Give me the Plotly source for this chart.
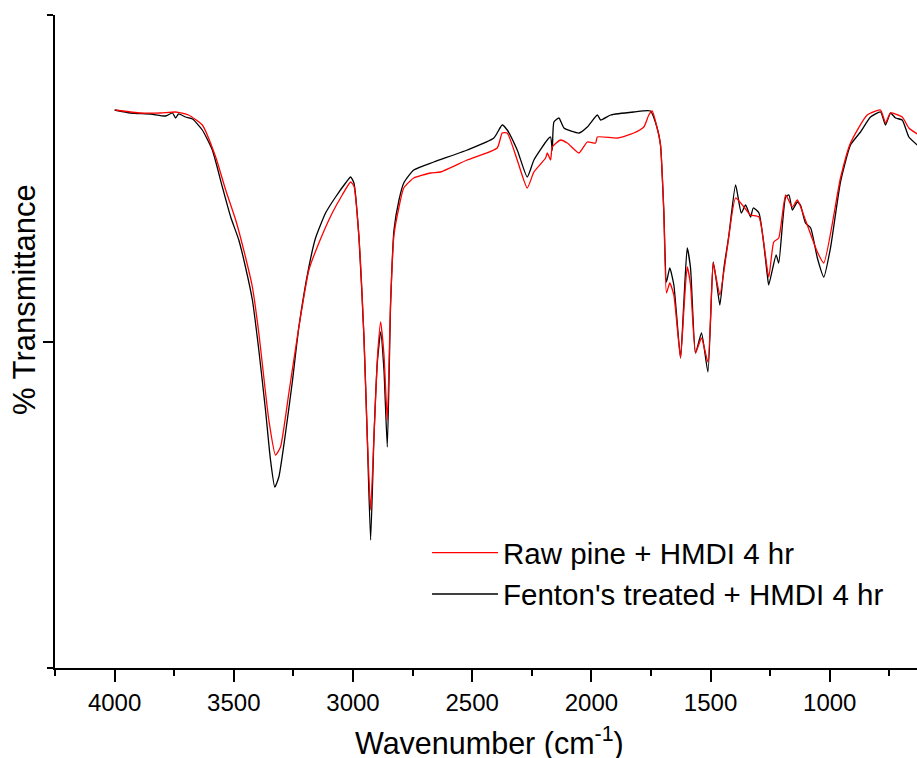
import plotly.graph_objects as go

# Fenton's treated + HMDI 4 hr (black)
fenton_wn = [4000,3933,3849,3786,3757,3744,3732,3702,3673,3632,
             3590,3548,3513,3479,3451,3422,3395,3367,3346,3328,
             3311,3283,3255,3227,3185,3157,3115,3073,3031,3010,
             2996,2975,2954,2940,2926,2912,2898,2884,2870,2856,
             2842,2828,2807,2787,2745,2661,2521,2409,2374,2353,
             2311,2269,2241,2185,2171,2164,2157,2136,2115,2052,
             2017,1975,1961,1919,1822,1752,1724,1710,1696,1685,
             1671,1654,1626,1612,1598,1584,1563,1538,1511,1489,
             1475,1461,1444,1423,1395,1371,1353,1332,1321,1297,
             1262,1256,1225,1214,1185,1171,1157,1136,1123,1102,
             1080,1052,1025,997,955,913,871,829,787,766,
             745,724,696,668,633]
fenton_t = [558,555,554,552,555,550,554,551,549,538,
            518,481,451,428,401,368,318,258,208,181,
            191,235,285,341,401,430,455,471,485,491,
            485,431,331,231,128,231,305,336,298,221,
            365,438,468,485,498,506,518,530,543,538,
            518,491,508,528,531,518,546,550,540,535,
            541,553,548,553,556,557,540,523,456,386,
            400,383,310,366,420,400,315,335,296,406,
            386,363,400,433,483,455,463,451,460,455,
            393,383,413,405,471,473,458,466,463,445,
            440,410,391,420,486,523,536,551,556,543,
            555,550,548,531,523]

# Raw pine + HMDI 4 hr (red)
raw_wn = [3996,3891,3807,3744,3690,3632,3576,3534,3492,3451,
          3422,3395,3353,3325,3304,3269,3227,3185,3143,3087,
          3045,3010,2996,2975,2954,2940,2926,2912,2898,2884,
          2870,2856,2842,2828,2807,2787,2745,2674,2633,2521,
          2395,2374,2353,2311,2269,2241,2192,2185,2171,2164,
          2129,2101,2052,2017,1982,1975,1891,1822,1780,1759,
          1745,1724,1710,1696,1685,1671,1654,1626,1612,1598,
          1584,1563,1538,1511,1489,1475,1461,1430,1395,1360,
          1332,1297,1256,1235,1214,1185,1157,1136,1102,1052,
          1025,955,913,843,787,766,745,696,668,633]
raw_t = [558,555,555,556,553,543,511,478,448,411,
         381,335,248,213,221,275,341,398,425,455,
         473,486,482,431,331,231,158,231,308,346,
         313,248,368,433,461,480,490,495,496,508,
         520,535,535,508,480,496,510,515,508,521,
         528,525,515,526,525,531,530,535,541,553,
         557,540,523,456,375,385,373,310,358,401,
         383,315,330,306,405,388,373,420,470,461,
         453,451,391,426,430,473,461,468,448,416,
         405,490,525,553,558,545,555,551,540,534]

x_ticks = [4000, 3500, 3000, 2500, 2000, 1500, 1000]
x_tick_labels = [str(v) for v in x_ticks]

FONT = "Liberation Sans, Arial, sans-serif"

fig = go.Figure()
fig.add_trace(go.Scatter(x=fenton_wn, y=fenton_t, mode="lines",
                         name="Fenton's treated + HMDI 4 hr",
                         line=dict(color="black", width=1.3, shape="spline", smoothing=0.5)))
fig.add_trace(go.Scatter(x=raw_wn, y=raw_t, mode="lines",
                         name="Raw pine + HMDI 4 hr",
                         line=dict(color="#ff0000", width=1.3, shape="spline", smoothing=0.5)))

fig.update_layout(
    width=917, height=758,
    margin=dict(l=55, r=0, t=15, b=90),
    paper_bgcolor="white", plot_bgcolor="white",
    font=dict(family=FONT, color="black"),
    showlegend=True,
    legend=dict(traceorder="reversed", x=0.4316, y=0.216, xanchor="left", yanchor="top",
                font=dict(size=29.5, family=FONT), bgcolor="rgba(0,0,0,0)",
                itemwidth=66, tracegroupgap=0),
    xaxis=dict(range=[4250, 634], showgrid=False, zeroline=False,
               showline=True, linecolor="black", linewidth=2,
               tickmode="array", tickvals=x_ticks, ticktext=x_tick_labels,
               ticks="outside", ticklen=12, tickwidth=2, tickcolor="black",
               tickfont=dict(size=24, family=FONT),
               minor=dict(dtick=250, tick0=4250, ticks="outside", ticklen=6,
                          tickwidth=2, tickcolor="black")),
    yaxis=dict(range=[0, 653], showgrid=False, zeroline=False,
               showline=True, linecolor="black", linewidth=2,
               tickmode="array", tickvals=[326.5], showticklabels=False,
               ticks="outside", ticklen=10, tickwidth=2, tickcolor="black",
               minor=dict(tickvals=[0, 653], ticks="outside", ticklen=6,
                          tickwidth=2, tickcolor="black")),
    annotations=[
        dict(text="Wavenumber (cm<sup>-1</sup>)", xref="paper", yref="paper",
             x=0.504, y=-0.112, xanchor="center", yanchor="middle",
             showarrow=False, font=dict(size=30.5, family=FONT)),
        dict(text="% Transmittance", xref="paper", yref="paper",
             x=-0.036, y=0.565, xanchor="center", yanchor="middle", textangle=-90,
             showarrow=False, font=dict(size=31, family=FONT)),
    ],
)

fig.write_html("out.html")
